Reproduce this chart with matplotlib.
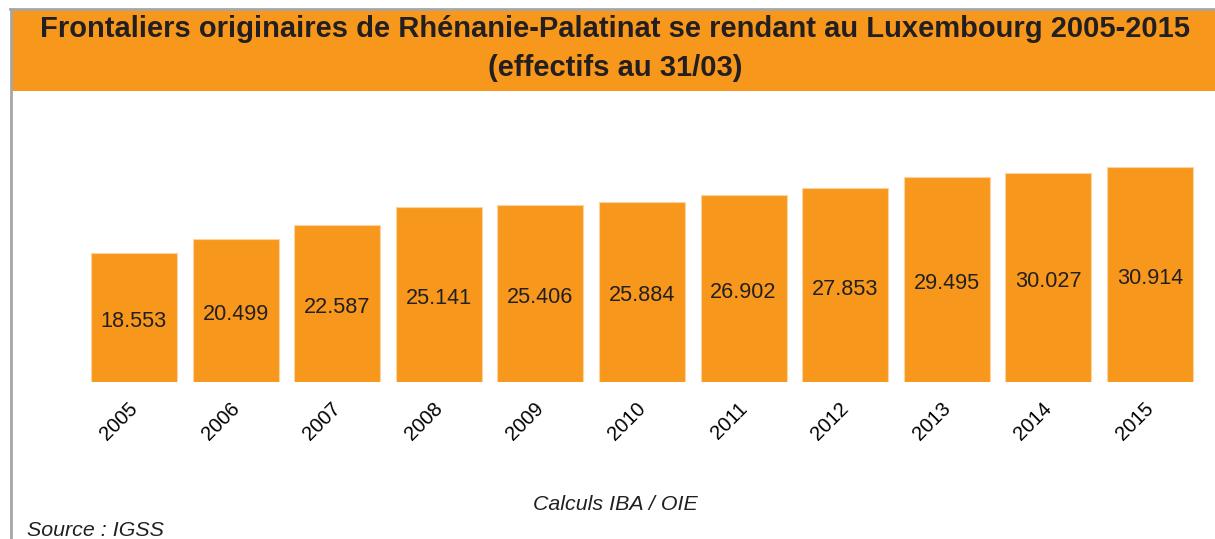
import matplotlib.pyplot as plt
from matplotlib.lines import Line2D
from matplotlib.patches import Rectangle
from matplotlib.transforms import ScaledTranslation

years = ['2005', '2006', '2007', '2008', '2009', '2010',
         '2011', '2012', '2013', '2014', '2015']
frontaliers = [18553, 20499, 22587, 25141, 25406, 25884,
               26902, 27853, 29495, 30027, 30914]
labels = ['18.553', '20.499', '22.587', '25.141', '25.406', '25.884',
          '26.902', '27.853', '29.495', '30.027', '30.914']

orange = '#F7981D'
dark = '#231F20'

plt.rcParams['font.family'] = ['Liberation Sans', 'DejaVu Sans']

W, H = 1215, 539
fig = plt.figure(figsize=(W / 100, H / 100), dpi=100)

# cadre gris + bandeau orange
fig.add_artist(Line2D([10 / W, 1], [1 - 9 / H, 1 - 9 / H], color='#A6A6A6', lw=2))
fig.add_artist(Line2D([11 / W, 11 / W], [0, 1 - 9 / H], color='#A6A6A6', lw=2))
fig.add_artist(Rectangle((12 / W, 1 - 91 / H), 1 - 12 / W, 81 / H,
                         color=orange, lw=0, transform=fig.transFigure))
fig.text(615 / W, 1 - 29 / H, 'Frontaliers originaires de Rhénanie-Palatinat se rendant au Luxembourg 2005-2015',
         ha='center', va='center', fontsize=21, fontweight='bold', color=dark)
fig.text(615 / W, 1 - 68 / H, '(effectifs au 31/03)',
         ha='center', va='center', fontsize=21, fontweight='bold', color=dark)

ax = fig.add_axes([83.2 / W, 1 - 382 / H, 1117.6 / W, 278.6 / H])
x = range(len(years))
bars = ax.bar(x, frontaliers, width=0.846, color=orange, edgecolor='#FBD3A0', lw=0.8)
down = ScaledTranslation(0, -0.04, fig.dpi_scale_trans)
for b, lab in zip(bars, labels):
    ax.text(b.get_x() + b.get_width() / 2, b.get_height() / 2, lab,
            ha='center', va='center', fontsize=15.6, color=dark,
            transform=ax.transData + down)

ax.set_xlim(-0.5, 10.5)
ax.set_ylim(0, 40000)
ax.set_yticks([])
ax.set_xticks(list(x))
ax.set_xticklabels(years, rotation=45, ha='right', va='top', rotation_mode='anchor',
                   fontsize=14.5, color='black')
ax.tick_params(axis='x', length=0, pad=12)
shift = ScaledTranslation(-0.06, 0, fig.dpi_scale_trans)
for lbl in ax.get_xticklabels():
    lbl.set_transform(lbl.get_transform() + shift)
for s in ax.spines.values():
    s.set_visible(False)

fig.text(615 / W, 1 - 505 / H, 'Calculs IBA / OIE', ha='center', va='center',
         fontsize=15.4, style='italic', color=dark)
fig.text(27 / W, 1 - 531 / H, 'Source : IGSS', ha='left', va='center',
         fontsize=15.4, style='italic', color=dark)

fig.savefig('out.png', dpi=100)
